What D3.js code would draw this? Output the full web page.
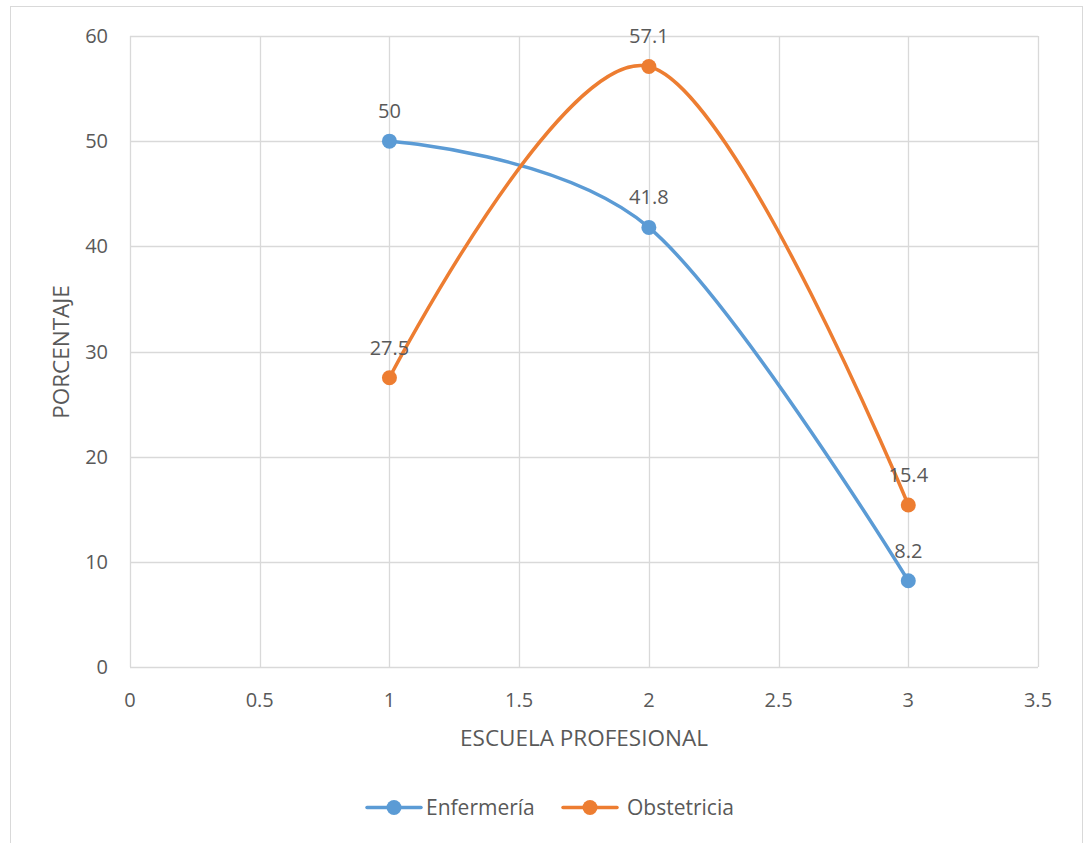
<!DOCTYPE html>
<html><head><meta charset="utf-8">
<script src="https://cdn.jsdelivr.net/npm/d3@7"></script>
<style>body{margin:0;background:#fff}svg{display:block}text{font-family:"Open Sans",sans-serif;fill:#595959}</style>
</head><body>
<script>
const xCats = [1, 2, 3];
const enfermeria = [50, 41.8, 8.2];
const obstetricia = [27.5, 57.1, 15.4];
const seriesNames = ["Enfermería", "Obstetricia"];
const xTicks = [0, 0.5, 1, 1.5, 2, 2.5, 3, 3.5];
const yTicks = [0, 10, 20, 30, 40, 50, 60];
const colors = ["#5B9BD5", "#ED7D31"];

const W = 1087, H = 843;
const svg = d3.select("body").append("svg").attr("width", W).attr("height", H);
svg.append("rect").attr("x", 10.5).attr("y", 6.5).attr("width", 1072).attr("height", 850)
  .attr("fill", "#fff").attr("stroke", "#D9D9D9");

const x = d3.scaleLinear().domain([0, 3.5]).range([130, 1038]);
const y = d3.scaleLinear().domain([0, 60]).range([667, 36]);

const g = svg.append("g");
g.selectAll(".vg").data(xTicks).join("line")
  .attr("x1", d => Math.round(x(d)) + 0.5).attr("x2", d => Math.round(x(d)) + 0.5)
  .attr("y1", y(60)).attr("y2", y(0)).attr("stroke", "#D9D9D9").attr("stroke-width", 1.3);
g.selectAll(".hg").data(yTicks).join("line")
  .attr("y1", d => Math.round(y(d)) + 0.5).attr("y2", d => Math.round(y(d)) + 0.5)
  .attr("x1", x(0)).attr("x2", x(3.5)).attr("stroke", "#D9D9D9").attr("stroke-width", 1.3);

g.selectAll(".xt").data(xTicks).join("text")
  .attr("x", d => x(d)).attr("y", 707).attr("text-anchor", "middle")
  .attr("font-size", 20).text(d => d);
g.selectAll(".yt").data(yTicks).join("text")
  .attr("x", 108).attr("y", d => y(d) + 7).attr("text-anchor", "end")
  .attr("font-size", 20).text(d => d);

svg.append("text").attr("x", 584).attr("y", 746).attr("text-anchor", "middle")
  .attr("font-size", 22.5).text("ESCUELA PROFESIONAL");
svg.append("text").attr("transform", "translate(69,352) rotate(-90)").attr("text-anchor", "middle")
  .attr("font-size", 22.5).text("PORCENTAJE");

const series = [enfermeria, obstetricia];
const line = d3.line().x((d, i) => x(xCats[i])).y(d => y(d)).curve(d3.curveCardinal.tension(0));
series.forEach((s, k) => {
  svg.append("path").attr("d", line(s)).attr("fill", "none")
    .attr("stroke", colors[k]).attr("stroke-width", 3.5).attr("stroke-linecap", "round");
  svg.selectAll(null).data(s).join("circle")
    .attr("cx", (d, i) => x(xCats[i])).attr("cy", d => y(d)).attr("r", 7.5).attr("fill", colors[k]);
  svg.selectAll(null).data(s).join("text")
    .attr("x", (d, i) => x(xCats[i])).attr("y", d => y(d) - 23).attr("text-anchor", "middle")
    .attr("font-size", 20).text(d => d);
});

// legend
const legX = [367, 563];
seriesNames.forEach((n, k) => {
  const lg = svg.append("g");
  lg.append("line").attr("x1", legX[k]).attr("x2", legX[k] + 54).attr("y1", 807.5).attr("y2", 807.5)
    .attr("stroke", colors[k]).attr("stroke-width", 3.5).attr("stroke-linecap", "round");
  lg.append("circle").attr("cx", legX[k] + 27).attr("cy", 807.5).attr("r", 7.5).attr("fill", colors[k]);
  lg.append("text").attr("x", legX[k] + 59 + (k ? 5 : 0)).attr("y", 815).attr("font-size", 21).text(n);
});
</script>
</body></html>
